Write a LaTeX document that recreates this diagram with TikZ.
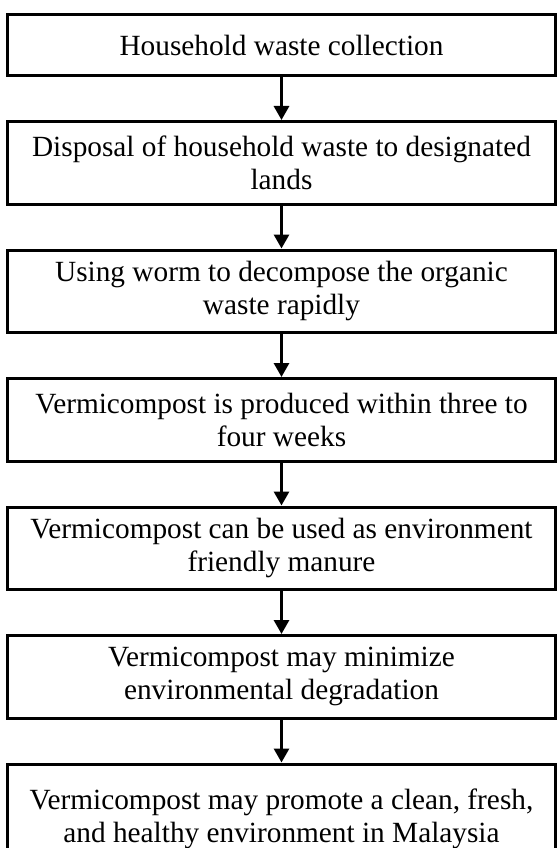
\documentclass[tikz,border=0pt]{standalone}
\usepackage{fontspec}
\setmainfont{Liberation Serif}
\usepackage{tikz}
\usetikzlibrary{arrows.meta,positioning}
\tikzset{
	stage/.style={draw, line width=3pt, minimum width=548pt, minimum height=82.5pt, inner sep=0pt, align=center, fill=white, font=\fontsize{29.3}{33}\selectfont},
	flow/.style={line width=3pt, -{Triangle[length=14pt,width=15pt]}}
}
\newcommand{\connectstages}[2]{
	\draw[flow] (#1.south) -- (#2.north);
}

\begin{document}
\begin{tikzpicture}
			\useasboundingbox (0,0) rectangle (559pt,-848pt);
			
			\node[stage, minimum height=61pt] (collection) at (281.5pt,-45pt) {Household waste collection};
			\node[stage, below=43pt of collection] (disposal) {Disposal of household waste to designated\\ lands};
			\node[stage, below=43pt of disposal] (worm) {Using worm to decompose the organic\\ waste rapidly};
			\node[stage, below=43pt of worm] (produced) {Vermicompost is produced within three to\\ four weeks};
			\node[stage, below=43pt of produced] (manure) {Vermicompost can be used as environment\\ friendly manure};
			\node[stage, below=43pt of manure] (degradation) {Vermicompost may minimize\\ environmental degradation};
			% last box runs off the bottom edge
			\node[stage, below=43pt of degradation, minimum height=110pt] (malaysia) {Vermicompost may promote a clean, fresh,\\ and healthy environment in Malaysia};
			
			\connectstages{collection}{disposal};
			\connectstages{disposal}{worm};
			\connectstages{worm}{produced};
			\connectstages{produced}{manure};
			\connectstages{manure}{degradation};
			\connectstages{degradation}{malaysia};
			
		\end{tikzpicture}
\end{document}
